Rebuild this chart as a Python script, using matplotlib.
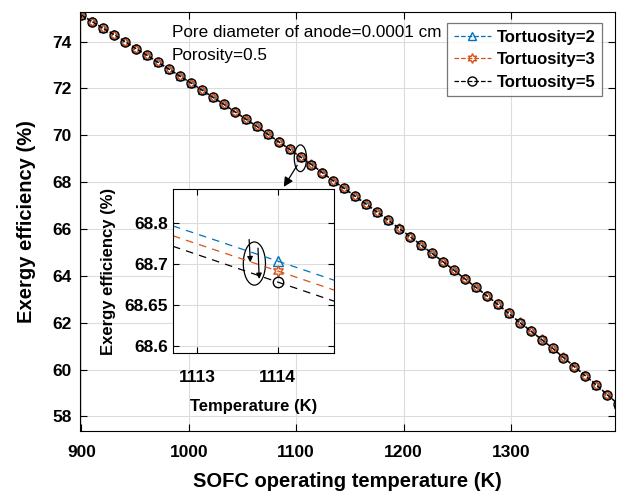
import numpy as np
import matplotlib.pyplot as plt
from matplotlib.patches import Ellipse
from matplotlib.ticker import FixedLocator, FixedFormatter

plt.rcParams['font.family'] = ['Liberation Sans', 'DejaVu Sans']

# SOFC operating temperature (K)
temp = np.linspace(900, 1400, 50)

# exergy efficiency (%) for each tortuosity
eff_t2 = [75.15, 74.86, 74.58, 74.31, 74.01, 73.71, 73.43, 73.13, 72.84, 72.54,
          72.25, 71.95, 71.64, 71.34, 71.02, 70.71, 70.40, 70.07, 69.74, 69.42,
          69.09, 68.77, 68.42, 68.07, 67.75, 67.41, 67.08, 66.74, 66.40, 66.04,
          65.69, 65.33, 64.98, 64.62, 64.26, 63.89, 63.53, 63.17, 62.80, 62.42,
          62.03, 61.67, 61.30, 60.93, 60.53, 60.14, 59.75, 59.36, 58.94, 58.54]
eff_t3 = [75.14, 74.85, 74.57, 74.30, 74.00, 73.70, 73.42, 73.12, 72.83, 72.53,
          72.24, 71.94, 71.63, 71.33, 71.01, 70.70, 70.39, 70.06, 69.73, 69.41,
          69.08, 68.76, 68.41, 68.06, 67.74, 67.40, 67.07, 66.73, 66.39, 66.03,
          65.68, 65.32, 64.97, 64.61, 64.25, 63.88, 63.52, 63.16, 62.79, 62.41,
          62.02, 61.66, 61.29, 60.92, 60.52, 60.13, 59.74, 59.35, 58.93, 58.53]
eff_t5 = [75.13, 74.84, 74.56, 74.29, 73.99, 73.69, 73.41, 73.11, 72.82, 72.52,
          72.23, 71.93, 71.62, 71.32, 71.00, 70.69, 70.38, 70.05, 69.72, 69.40,
          69.07, 68.75, 68.40, 68.05, 67.73, 67.39, 67.06, 66.72, 66.38, 66.02,
          65.67, 65.31, 64.96, 64.60, 64.24, 63.87, 63.51, 63.15, 62.78, 62.40,
          62.01, 61.65, 61.28, 60.91, 60.51, 60.12, 59.73, 59.34, 58.92, 58.52]

# zoomed window (inset)
inset_temp = [1112.7, 1114.0, 1114.7]
inset_t2 = [68.795, 68.738, 68.707]
inset_t3 = [68.779, 68.722, 68.691]
inset_t5 = [68.762, 68.704, 68.673]
inset_yticks = [68.6, 68.6667, 68.7333, 68.8]
inset_ylabels = ['68.6', '68.65', '68.7', '68.8']

labels = ['Tortuosity=2', 'Tortuosity=3', 'Tortuosity=5']
colors = ['#0072BD', '#D95319', 'black']
markers = ['^', (6, 1, 0), 'o']
msizes = [6, 7, 6.5]

fig = plt.figure(figsize=(6.2, 4.92), dpi=100)
ax = fig.add_axes([0.129, 0.124, 0.863, 0.852])

for y, c, m, ms, lab in zip([eff_t2, eff_t3, eff_t5], colors, markers, msizes, labels):
    ax.plot(temp, y, '--', color=c, lw=0.9, marker=m, ms=ms, mfc='none',
            mec=c, mew=1.0, label=lab)

ax.set_xlim(898.7, 1397)
ax.set_ylim(57.38, 75.27)
ax.set_xticks([900, 1000, 1100, 1200, 1300])
ax.set_yticks(np.arange(58, 75, 2))
ax.grid(True, color='#dcdcdc', lw=0.8)
ax.set_axisbelow(True)
ax.tick_params(direction='in', top=True, right=True, length=5, labelsize=12.5)
ax.tick_params(axis='x', pad=10)
ax.tick_params(axis='y', pad=6)
for t in ax.get_xticklabels() + ax.get_yticklabels():
    t.set_fontweight('bold')
ax.set_xlabel('SOFC operating temperature (K)', fontsize=14.5, fontweight='bold',
              labelpad=9)
ax.set_ylabel('Exergy efficiency (%)', fontsize=14.5, fontweight='bold', labelpad=12)

ax.text(0.172, 0.95, 'Pore diameter of anode=0.0001 cm', transform=ax.transAxes,
        fontsize=12.3, va='center')
ax.text(0.172, 0.895, 'Porosity=0.5', transform=ax.transAxes, fontsize=12.3,
        va='center')

leg = ax.legend(loc='upper right', bbox_to_anchor=(0.985, 0.985),
                prop={'weight': 'bold', 'size': 12}, fancybox=False,
                edgecolor='#555555', handlelength=2.2, borderpad=0.4,
                labelspacing=0.45, handletextpad=0.35, borderaxespad=0.3)
leg.get_frame().set_linewidth(0.9)

ax.add_patch(Ellipse((1104, 69.02), 11.5, 1.14, fill=False, ec='black', lw=0.9))
ax.annotate('', xy=(1088.5, 67.8), xytext=(1101, 68.72),
            arrowprops=dict(arrowstyle='-|>', color='black', lw=0.9,
                            mutation_scale=14, shrinkA=0, shrinkB=0))

# inset
ins = fig.add_axes([0.279, 0.2825, 0.260, 0.3335])
for y, c, m, ms in zip([inset_t2, inset_t3, inset_t5], colors, markers, msizes):
    ins.plot(inset_temp, y, '--', color=c, lw=0.9, dashes=(6, 5))
    ins.plot(inset_temp[1], y[1], linestyle='none', marker=m, ms=ms + 1,
             mfc='none', mec=c, mew=1.0)
ins.set_xlim(1112.7, 1114.7)
ins.set_ylim(68.589, 68.855)
ins.set_xticks([1113, 1114])
ins.yaxis.set_major_locator(FixedLocator(inset_yticks))
ins.yaxis.set_major_formatter(FixedFormatter(inset_ylabels))
ins.grid(True, color='#dcdcdc', lw=0.8)
ins.set_axisbelow(True)
ins.tick_params(direction='in', top=True, right=True, length=4, labelsize=12.5)
ins.tick_params(axis='x', pad=12)
for t in ins.get_xticklabels() + ins.get_yticklabels():
    t.set_fontweight('bold')
ins.set_xlabel('Temperature (K)', fontsize=12, fontweight='bold', labelpad=10)
ins.set_ylabel('Exergy efficiency (%)', fontsize=12, fontweight='bold', labelpad=6)

ins.add_patch(Ellipse((1113.71, 68.734), 0.275, 0.07, fill=False, ec='black', lw=0.9))
ins.annotate('', xy=(1113.66, 68.736), xytext=(1113.645, 68.773),
             arrowprops=dict(arrowstyle='-|>', color='black', lw=0.9,
                             mutation_scale=8, shrinkA=0, shrinkB=0))
ins.annotate('', xy=(1113.77, 68.709), xytext=(1113.755, 68.759),
             arrowprops=dict(arrowstyle='-|>', color='black', lw=0.9,
                             mutation_scale=8, shrinkA=0, shrinkB=0))

plt.savefig('out.png', dpi=100)
